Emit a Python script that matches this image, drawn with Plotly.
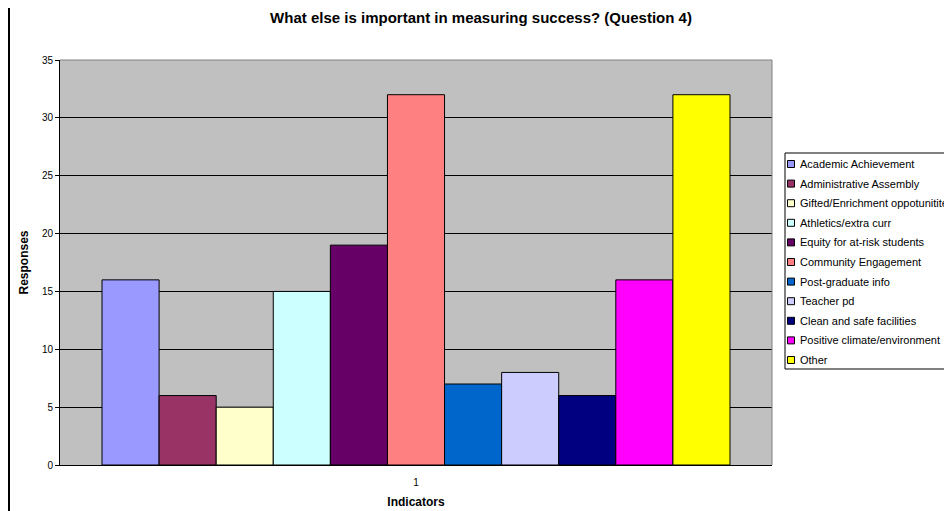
import plotly.graph_objects as go

categories = ["1"]
series_names = [
    "Academic Achievement", "Administrative Assembly", "Gifted/Enrichment oppotunitites",
    "Athletics/extra curr", "Equity for at-risk students", "Community Engagement",
    "Post-graduate info", "Teacher pd", "Clean and safe facilities",
    "Positive climate/environment", "Other",
]
series_values = [16, 6, 5, 15, 19, 32, 7, 8, 6, 16, 32]
series_colors = [
    "#9999FF", "#993366", "#FFFFCC", "#CCFFFF", "#660066", "#FF8080",
    "#0066CC", "#CCCCFF", "#000080", "#FF00FF", "#FFFF00",
]
y_ticks = [0, 5, 10, 15, 20, 25, 30, 35]

fig = go.Figure()
for name, val, col in zip(series_names, series_values, series_colors):
    fig.add_trace(go.Bar(
        x=categories, y=[val], name=name, showlegend=False,
        marker=dict(color=col, line=dict(color="black", width=1)),
    ))

# page has an 8px body margin; work in figure pixel coordinates
O = 8
W, H = 952 - O, 511 - O
L, T = 60 - O, 60 - O
PR, PB = 772 - O, 465 - O
R, B = W - PR, H - PB
pw, ph = PR - L, PB - T

def px_x(p):
    return (p - O - L) / pw

def px_y(p):
    return 1 - (p - O - T) / ph

shapes = [
    dict(type="line", xref="paper", yref="paper", x0=0, x1=1, y0=1, y1=1,
         line=dict(color="#808080", width=1)),
    dict(type="line", xref="paper", yref="paper", x0=1, x1=1, y0=0, y1=1,
         line=dict(color="#808080", width=1)),
    dict(type="line", xref="paper", yref="paper", x0=px_x(9), x1=px_x(9),
         y0=px_y(0), y1=px_y(520), line=dict(color="black", width=2)),
    # legend box
    dict(type="rect", xref="paper", yref="paper", x0=px_x(785), x1=px_x(990),
         y0=px_y(153), y1=px_y(369), fillcolor="white",
         line=dict(color="black", width=1), layer="above"),
]
annotations = []
y0_item, dy = 164, 19.6
for i, (name, col) in enumerate(zip(series_names, series_colors)):
    yc = y0_item + i * dy
    shapes.append(dict(type="rect", xref="paper", yref="paper",
                       x0=px_x(787.5), x1=px_x(794.5), y0=px_y(yc - 3.5), y1=px_y(yc + 3.5),
                       fillcolor=col, line=dict(color="black", width=1), layer="above"))
    annotations.append(dict(text=name, xref="paper", yref="paper", x=px_x(798), y=px_y(yc),
                            xanchor="left", yanchor="middle", showarrow=False,
                            font=dict(size=11, color="black")))

fig.update_layout(
    width=W, height=H,
    margin=dict(l=L, r=R, t=T, b=B, autoexpand=False),
    paper_bgcolor="white",
    plot_bgcolor="#C0C0C0",
    font=dict(family="Liberation Sans, Arial, sans-serif", size=10, color="black"),
    title=dict(text="<b>What else is important in measuring success? (Question 4)</b>",
               x=(481 - O) / W, xref="container", xanchor="center", y=1 - (18 - O) / H,
               yanchor="middle", font=dict(size=15)),
    barmode="group",
    bargap=0.118,
    bargroupgap=0,
    showlegend=False,
    xaxis=dict(
        type="category", showgrid=False, showline=True, linecolor="black", linewidth=1,
        ticks="", tickfont=dict(size=10), ticklabelstandoff=8,
        title=dict(text="<b>Indicators</b>", font=dict(size=12), standoff=10),
    ),
    yaxis=dict(
        range=[0, 35], tickvals=y_ticks, showgrid=True, gridcolor="black", gridwidth=1,
        showline=True, linecolor="black", linewidth=1, ticks="outside", ticklen=4,
        tickcolor="black", tickfont=dict(size=10), zeroline=False,
        title=dict(text="<b>Responses</b>", font=dict(size=12), standoff=10),
    ),
    shapes=shapes,
    annotations=annotations,
)

fig.write_html("out.html")
